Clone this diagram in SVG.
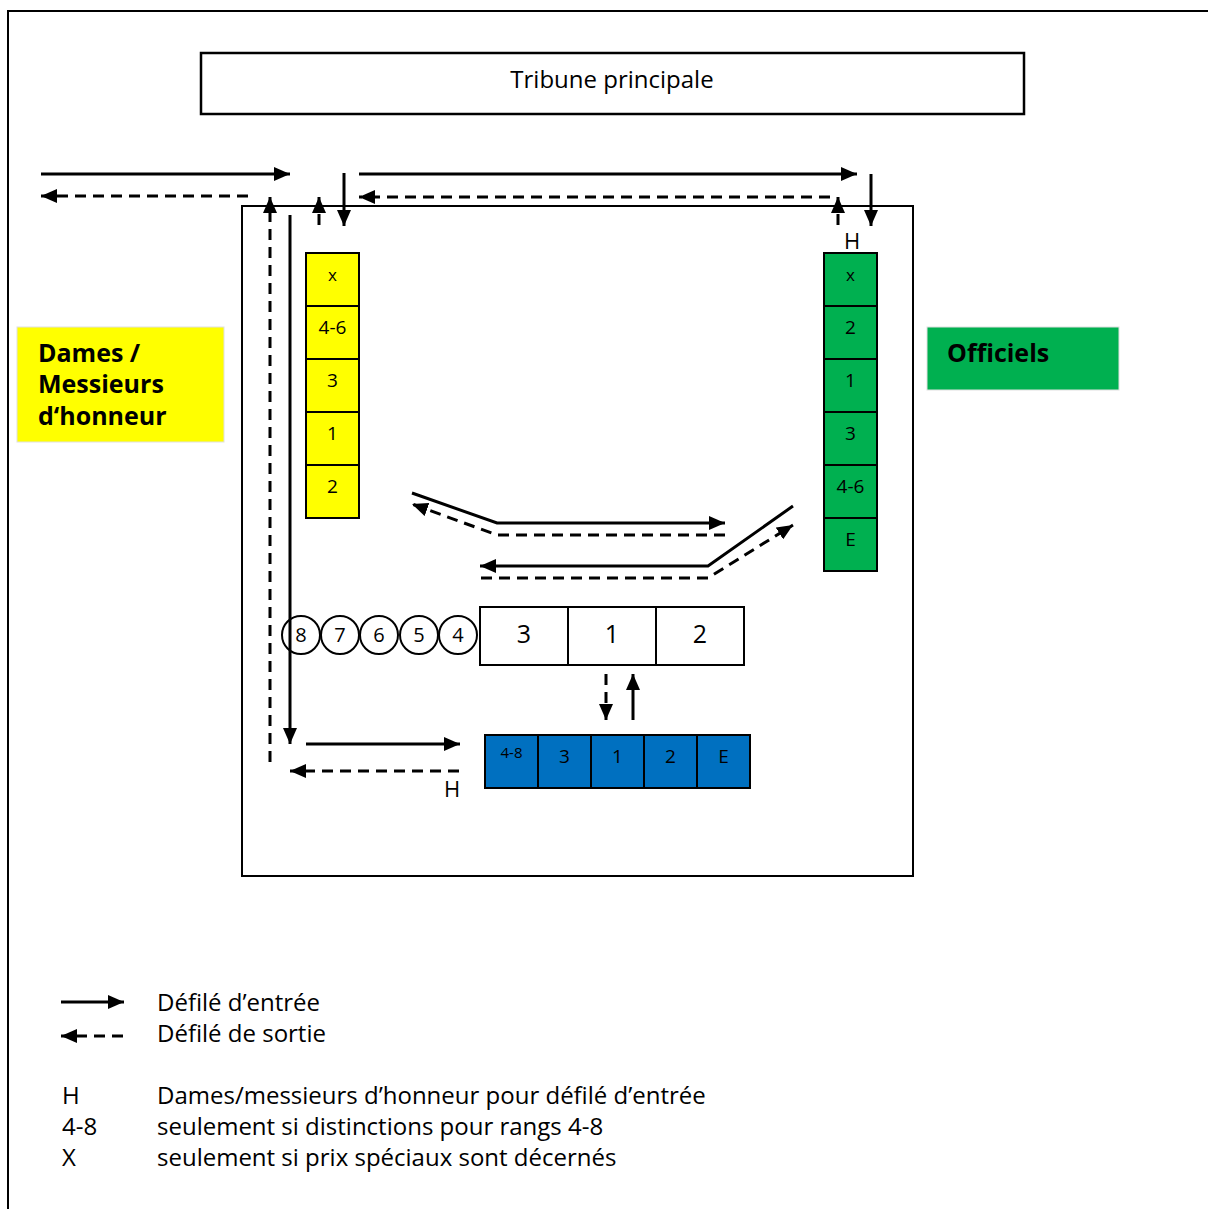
<svg xmlns="http://www.w3.org/2000/svg" width="1208" height="1209" viewBox="0 0 1208 1209">
<defs>
<marker id="ah" viewBox="0 0 16 14" refX="16" refY="7" markerWidth="16" markerHeight="14" markerUnits="userSpaceOnUse" orient="auto">
<path d="M0,0 L16,7 L0,14 z" fill="#000"/>
</marker>
</defs>
<style>
.t{font-family:"Open Sans","Noto Sans","Liberation Sans",sans-serif;fill:#000}
.c{text-anchor:middle}
.cell{stroke:#000;stroke-width:2}
.s{stroke:#000;stroke-width:3;fill:none}
.d{stroke:#000;stroke-width:3;fill:none;stroke-dasharray:11 7}
.a{marker-end:url(#ah)}
</style>
<rect width="1208" height="1209" fill="#fff"/>
<g id="frame"><rect x="8" y="11" width="1220" height="1220" fill="none" stroke="#000" stroke-width="2"/></g>
<g id="tribune">
<rect x="201" y="53" width="823" height="61" fill="#fff" stroke="#000" stroke-width="2.5"/>
<text class="t c" x="612" y="88" font-size="24">Tribune principale</text>
</g>
<g id="field"><rect x="242" y="206" width="671" height="670" fill="none" stroke="#000" stroke-width="2"/></g>
<g id="label-dames">
<rect x="17" y="327" width="207" height="115" fill="#ffff00" stroke="#e0e0e0" stroke-width="1"/>
<text class="t" x="38" y="362" font-size="25" font-weight="bold">Dames /</text>
<text class="t" x="38" y="393" font-size="25" font-weight="bold">Messieurs</text>
<text class="t" x="38" y="425" font-size="25" font-weight="bold">d‘honneur</text>
</g>
<g id="label-officiels">
<rect x="927" y="327" width="192" height="63" fill="#00b050" stroke="#e0e0e0" stroke-width="1"/>
<text class="t" x="947" y="362" font-size="25" font-weight="bold">Officiels</text>
</g>
<g id="col-yellow">
<rect class="cell" x="306" y="253" width="53" height="53" fill="#ffff00"/>
<rect class="cell" x="306" y="306" width="53" height="53" fill="#ffff00"/>
<rect class="cell" x="306" y="359" width="53" height="53" fill="#ffff00"/>
<rect class="cell" x="306" y="412" width="53" height="53" fill="#ffff00"/>
<rect class="cell" x="306" y="465" width="53" height="53" fill="#ffff00"/>
<text class="t c" x="332.5" y="281" font-size="17">x</text>
<text class="t c" x="332.5" y="334" font-size="19">4-6</text>
<text class="t c" x="332.5" y="387" font-size="19">3</text>
<text class="t c" x="332.5" y="440" font-size="19">1</text>
<text class="t c" x="332.5" y="493" font-size="19">2</text>
</g>
<g id="col-green">
<rect class="cell" x="824" y="253" width="53" height="53" fill="#00b050"/>
<rect class="cell" x="824" y="306" width="53" height="53" fill="#00b050"/>
<rect class="cell" x="824" y="359" width="53" height="53" fill="#00b050"/>
<rect class="cell" x="824" y="412" width="53" height="53" fill="#00b050"/>
<rect class="cell" x="824" y="465" width="53" height="53" fill="#00b050"/>
<rect class="cell" x="824" y="518" width="53" height="53" fill="#00b050"/>
<text class="t c" x="850.5" y="281" font-size="17">x</text>
<text class="t c" x="850.5" y="334" font-size="19">2</text>
<text class="t c" x="850.5" y="387" font-size="19">1</text>
<text class="t c" x="850.5" y="440" font-size="19">3</text>
<text class="t c" x="850.5" y="493" font-size="19">4-6</text>
<text class="t c" x="850.5" y="546" font-size="19">E</text>
</g>
<g id="podium">
<rect class="cell" x="480" y="607" width="88" height="58" fill="#fff"/>
<rect class="cell" x="568" y="607" width="88" height="58" fill="#fff"/>
<rect class="cell" x="656" y="607" width="88" height="58" fill="#fff"/>
<text class="t c" x="524" y="643" font-size="25">3</text>
<text class="t c" x="612" y="643" font-size="25">1</text>
<text class="t c" x="700" y="643" font-size="25">2</text>
</g>
<g id="ranks">
<circle class="cell" cx="301" cy="635" r="19" fill="#fff"/>
<circle class="cell" cx="340" cy="635" r="19" fill="#fff"/>
<circle class="cell" cx="379" cy="635" r="19" fill="#fff"/>
<circle class="cell" cx="419" cy="635" r="19" fill="#fff"/>
<circle class="cell" cx="458" cy="635" r="19" fill="#fff"/>
<text class="t c" x="301" y="642" font-size="20">8</text>
<text class="t c" x="340" y="642" font-size="20">7</text>
<text class="t c" x="379" y="642" font-size="20">6</text>
<text class="t c" x="419" y="642" font-size="20">5</text>
<text class="t c" x="458" y="642" font-size="20">4</text>
</g>
<g id="col-blue">
<rect class="cell" x="485" y="735" width="53" height="53" fill="#0070c0"/>
<rect class="cell" x="538" y="735" width="53" height="53" fill="#0070c0"/>
<rect class="cell" x="591" y="735" width="53" height="53" fill="#0070c0"/>
<rect class="cell" x="644" y="735" width="53" height="53" fill="#0070c0"/>
<rect class="cell" x="697" y="735" width="53" height="53" fill="#0070c0"/>
<text class="t c" x="511.5" y="758" font-size="15">4-8</text>
<text class="t c" x="564.5" y="763" font-size="19">3</text>
<text class="t c" x="617.5" y="763" font-size="19">1</text>
<text class="t c" x="670.5" y="763" font-size="19">2</text>
<text class="t c" x="723.5" y="763" font-size="19">E</text>
</g>
<g id="connectors">
<line class="s a" x1="41" y1="174" x2="290" y2="174"/>
<line class="d a" x1="248" y1="196" x2="41" y2="196"/>
<line class="d a" x1="270" y1="762" x2="270" y2="197"/>
<line class="s a" x1="290" y1="215" x2="290" y2="744"/>
<line class="d a" x1="319" y1="225" x2="319" y2="197"/>
<line class="s a" x1="344" y1="173" x2="344" y2="226"/>
<line class="s a" x1="359" y1="174" x2="857" y2="174"/>
<line class="d a" x1="830" y1="197" x2="359" y2="197"/>
<line class="d a" x1="838" y1="225" x2="838" y2="197"/>
<line class="s a" x1="871" y1="174" x2="871" y2="226"/>
<polyline class="s a" points="412,493 497,523 725,523"/>
<polyline class="d a" points="725,535 497,535 412,504"/>
<polyline class="s a" points="793,506 708,566 480,566"/>
<polyline class="d a" points="481,578 708,578 793,525"/>
<line class="d a" x1="606" y1="674" x2="606" y2="720"/>
<line class="s a" x1="633" y1="720" x2="633" y2="674"/>
<line class="s a" x1="306" y1="744" x2="460" y2="744"/>
<line class="d a" x1="459" y1="771" x2="290" y2="771"/>
</g>
<g id="h-labels">
<text class="t c" x="852" y="249" font-size="22">H</text>
<text class="t c" x="452" y="797" font-size="22">H</text>
</g>
<g id="legend">
<line class="s a" x1="61" y1="1002" x2="124" y2="1002"/>
<line class="d a" x1="123" y1="1036" x2="61" y2="1036"/>
<text class="t" x="157" y="1011" font-size="24">Défilé d’entrée</text>
<text class="t" x="157" y="1042" font-size="24">Défilé de sortie</text>
<text class="t" x="62" y="1104" font-size="24">H</text>
<text class="t" x="62" y="1135" font-size="24">4-8</text>
<text class="t" x="62" y="1166" font-size="24">X</text>
<text class="t" x="157" y="1104" font-size="24">Dames/messieurs d’honneur pour défilé d’entrée</text>
<text class="t" x="157" y="1135" font-size="24">seulement si distinctions pour rangs 4-8</text>
<text class="t" x="157" y="1166" font-size="24">seulement si prix spéciaux sont décernés</text>
</g>
</svg>
